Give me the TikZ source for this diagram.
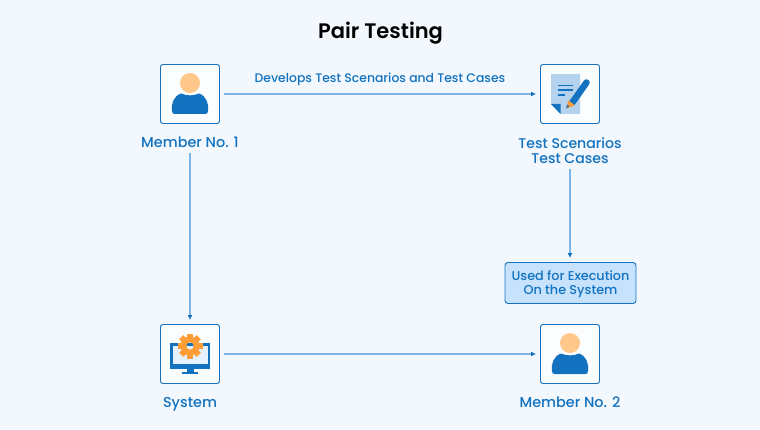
\documentclass[tikz,border=0pt]{standalone}
\usepackage{fontspec}
\setmainfont{Poppins}[BoldFont={Poppins Medium}]
\newfontfamily\titlefont{Poppins SemiBold}
\usetikzlibrary{positioning, arrows.meta}
\definecolor{pagebg}{HTML}{F2F8FE}
\definecolor{mainblue}{HTML}{1272BF}
\definecolor{linkblue}{HTML}{7DB5E6}
\definecolor{paleblue}{HTML}{B5D3EE}
\definecolor{execfill}{HTML}{C6E2FD}
\definecolor{skin}{HTML}{FFC78A}
\definecolor{gearorange}{HTML}{FF9E36}

\begin{document}
\begin{tikzpicture}[x=1pt, y=-1pt,
        iconbox/.style={draw=mainblue, fill=white!70!pagebg, line width=0.9pt, rounded corners=2.5pt, minimum size=59pt, inner sep=0pt},
        caption/.style={font=\fontsize{14.4}{16}\selectfont\bfseries, text=mainblue, align=center, inner sep=0pt},
        edge/.style={-{Latex[length=5pt, width=5pt, color=mainblue]}, draw=linkblue, line width=1.4pt},
        pics/person/.style={code={
            \fill[skin] (0,-11) circle (10);
            \fill[mainblue] (-18,17) .. controls (-19,9) and (-16,2) .. (-9,-0.5)
                .. controls (-4,2) and (4,2) .. (9,-0.5)
                .. controls (16,2) and (19,9) .. (18,17)
                .. controls (18,19.5) and (17,20) .. (15,20) -- (-15,20)
                .. controls (-17,20) and (-18,19.5) .. (-18,17) -- cycle;
        }},
        ]

        % background
        \fill[pagebg] (0,0) rectangle (760,430);
        \useasboundingbox (0,0) rectangle (760,430);

        \node[font=\fontsize{21}{24}\selectfont\titlefont, inner sep=0pt, anchor=base] (title) at (380.5,39) {Pair Testing};

        % boxes
        \node[iconbox] (member1) at (190,94) {};
        \node[iconbox] (scenarios) at (570,94) {};
        \node[iconbox] (system) at (190,354) {};
        \node[iconbox] (member2) at (570,354) {};

        \node[caption, anchor=base] (member1label) at (190,147.5) {Member No. 1};
        \node[caption, font=\fontsize{14.1}{16}\selectfont\bfseries] (scenarioslabel) at (570,150.5) {Test Scenarios\\[-0.5pt]Test Cases};
        \node[caption, anchor=base] (systemlabel) at (190,407) {System};
        \node[caption, anchor=base] (member2label) at (570,407) {Member No. 2};

        \node[draw=mainblue, fill=execfill, line width=0.9pt, rounded corners=3pt, minimum width=131pt, minimum height=41pt, inner sep=0pt,
            font=\fontsize{12.8}{14.6}\selectfont\bfseries, text=mainblue, align=center] (exec) at (570.5,283) {\rule{0pt}{12.5pt}Used for Execution\\On the System};

        % icons
        \pic at (member1) {person};
        \pic at (member2) {person};

        \fill[paleblue] (551,74) -- (580,74) -- (580,114) -- (560.5,114) -- (551,104) -- cycle;
        \fill[mainblue] (551,104) -- (560.5,104) -- (560.5,114) -- cycle;
        \draw[mainblue, line width=1.8pt] (557.5,85.5) -- (573,85.5) (557.5,90.3) -- (573,90.3) (557.5,95) -- (565,95);
        \draw[mainblue, line width=6.5pt, line cap=round] (586.5,82.5) -- (572,103);
        \fill[gearorange] (568.2,100.4) -- (574.6,105) -- (570,107.5) -- (566,108.5) -- cycle;
        \fill[mainblue] (566,108.5) -- (567.2,104.7) -- (569.5,106.3) -- cycle;

        \fill[mainblue] (170,343) rectangle (210,368.5);
        \fill[pagebg!70!execfill] (172.5,345.5) rectangle (207.5,364);
        \fill[mainblue] (186.5,368) rectangle (193.5,372.5);
        \fill[mainblue] (182,372) rectangle (198,373.5);
        \foreach \a in {0,45,...,315}
            \fill[gearorange, rotate around={\a:(190,346)}] (187,333.5) rectangle (193,340);
        \fill[gearorange, even odd rule] (190,346) circle (9.5) (190,346) circle (3.7);

        % connectors
        \draw[edge, shorten <=4.5pt, shorten >=4pt] (member1) -- node[above=7.5pt, font=\fontsize{12.4}{15}\selectfont\bfseries, text=mainblue, inner sep=0pt] (developslabel) {Develops Test Scenarios and Test Cases} (scenarios);
        \draw[edge, shorten <=5pt, shorten >=4pt] (member1label) -- (system);
        \draw[edge, shorten <=5.5pt, shorten >=4pt] (scenarioslabel) -- (scenarioslabel |- exec.north);
        \draw[edge, shorten <=4.5pt, shorten >=4pt] (system) -- (member2);

        \end{tikzpicture}
\end{document}
